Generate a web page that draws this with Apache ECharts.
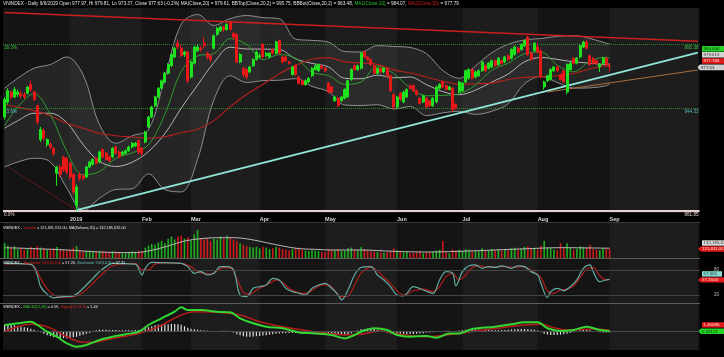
<!DOCTYPE html>
<html><head><meta charset="utf-8">
<script src="https://cdn.jsdelivr.net/npm/echarts@6/dist/echarts.min.js"></script>
<style>html,body{margin:0;padding:0;background:#000;overflow:hidden}#c{width:724px;height:357px}</style>
</head><body><div id="c"></div>
<script>
// ---------- data ----------
const totalSlots = 213;
const monthStarts = [20, 42, 57, 78, 98, 120, 140, 163, 185];
const monthLabels = ['2019', 'Feb', 'Mar', 'Apr', 'May', 'Jun', 'Jul', 'Aug', 'Sep'];
const lightMonths = [[20, 42], [57, 78], [98, 120], [140, 163], [185, 212]];

const opens = [937,949,957,953,955,956,955,956,963,957, 946,919,926,915,915,912,892,897,905,904, 900,891,866,891,890,889,897,899,904,901, 911,908,905,905,913,909,907,908,910,913, 914,918,912,917,929,937,946,953,960,965, 972,978,985,996,992,987,989,969,980,990, 992,996,988,986,992,1003,1006,1009,1007,1013, 1004,1003,981,976,975,973,978,983,985,995, 986,985,991,988,998,985,985,981,971,978, 969,966,963,965,970,975,974,978,976,964, 961,950,952,950,952,953,967,978,975,976, 989,985,983,978,972,976,973,976,970,955, 945,956,949,953,962,962,958,952,949,952, 950,946,949,960,965,962,959,960,947,957, 958,965,968,975,969,970,974,978,976,977, 982,979,982,981,986,984,987,992,991,994, 1001,988,990,993,990,961,966,967,974,977, 971,974,957,975,984,980,985,993,997,986, 984,982,977,980,984,977.97];
const closes = [951,958,953,959,957,954,953,961,959,951, 933,927,920,919,913,908,897,891,895,893, 889,877,881,888,888,897,901,903,900,909, 905,903,902,912,908,905,909,910,913,916, 916,909,908,925,937,945,953,960,966,972, 979,987,992,993,986,989,966,981,993,993, 991,994,985,983,1002,1008,1009,1007,1011,1007, 1001,981,987,971,969,977,983,989,986,985, 988,988,988,997,988,981,982,980,977,971, 964,963,966,968,976,978,979,976,974,957, 957,953,946,953,959,966,975,975,978,988, 985,983,979,972,976,973,976,970,958,945, 953,951,957,959,960,958,955,948,954,945, 946,952,961,963,961,959,961,943,944,965, 964,974,975,968,973,974,981,974,980,982, 978,984,980,985,983,991,993,989,995,998, 987,983,996,989,969,965,970,975,977,974, 967,965,979,980,980,984,994,997,992,979, 980,980,979,984,979,977.63];
const lows = [935,947,951,952,953,952,951,955,957,950, 931,917,918,913,911,906,882,889,893,891, 887,875,862,886,886,888,896,898,899,900, 904,902,901,904,907,904,906,907,909,912, 913,907,906,916,928,936,945,952,959,964, 971,977,984,991,985,985,964,968,979,989, 989,992,983,981,991,1002,1005,1005,1006,1006, 999,980,980,969,967,972,977,982,984,984, 985,984,987,987,987,980,981,979,970,970, 963,962,962,964,969,974,973,975,973,956, 956,949,945,949,951,952,966,974,974,975, 984,982,978,971,971,972,972,969,957,943, 944,950,948,952,959,957,954,947,948,944, 945,945,948,959,960,958,958,941,943,956, 957,964,967,967,968,969,973,973,975,976, 977,978,979,980,982,983,986,988,990,993, 986,982,989,988,968,959,965,966,973,973, 966,964,955,974,979,979,984,992,991,978, 979,979,973,979,978,973.37];
const highs = [953,960,958,961,959,958,957,962,966,958, 947,929,928,920,917,913,898,899,906,905, 901,892,883,893,891,898,902,904,905,910, 912,909,906,913,914,910,910,911,914,917, 917,919,913,926,938,946,954,961,967,973, 980,988,993,999,995,990,990,982,994,995, 994,1001,989,987,1003,1009,1010,1010,1012,1014, 1005,1004,988,977,976,978,984,990,988,996, 989,989,992,998,999,986,986,982,978,979, 970,967,967,969,977,979,980,979,977,965, 962,954,953,954,960,967,976,979,979,989, 990,986,984,979,977,977,977,977,971,956, 954,957,958,960,963,963,959,953,955,953, 951,953,962,964,966,963,962,961,948,966, 965,975,976,976,974,975,982,979,981,983, 983,985,983,986,987,992,994,993,996,999, 1002,989,997,996,991,966,971,976,978,978, 972,975,980,981,985,985,995,998,999,987, 985,983,980,985,985,979.81];

// indicator lines read at sampled candles
const sampleIdx = [0,4,9,14,19,24,29,34,39,44,49,54,59,64,69,74,79,84,89,94,99,104,109,114,119,124,129,134,139,144,149,154,159,164,169,174,179,184,185];
const ma20  = [928,934,940,940,932.6,914.9,901.5,897.4,900.8,909.4,923.7,944.1,962.5,980.5,992.8,991.4,991.3,991,983.5,979.9,977.1,968,967.6,970.5,968.4,969,962.9,957.3,954.8,958.5,965,971.4,981.1,984.6,983.1,981.1,980.1,979,979.61];
const bbTop = [960,968,976,979,985,970.7,931,916,922,927,968.5,1011.2,1019,1010.3,1015.7,1018.2,1016.5,1015.6,999.3,998.3,996.9,989.4,989,994.1,993.4,992.6,987.7,974.3,968,977.9,988.4,995.2,998.6,999.8,1001.5,1002.1,999.9,996,995.75];
const bbBot = [897,901,904,901,880.2,862,872,879,879.6,891.5,878.9,877.1,903.1,950.7,970,964.6,966.1,966.4,967.7,961.5,957.3,946.6,946.2,946.9,943.4,945.4,938.1,940.3,941.6,939.1,941.6,947.6,963.6,969.4,964.7,960.1,960.3,962,963.48];
const ma10  = [930,945,955.6,939,909.6,890.7,893.3,904,908.3,914.8,939.1,973.3,985.9,987.7,999.7,995.1,982.9,986.9,984,972.8,970.1,963.2,965,977.7,971.7,960.2,954,954.3,955.5,962.6,974.5,980.1,987.6,989,978.5,973.2,981.7,984.8,984.07];
const ma50  = [947,945,942,938,932,928,924,922,921,920,921.2,924.4,927.2,934.1,945.3,955,963.2,971.6,978.3,983.2,984.5,981.1,980.3,979.1,974.7,972.2,969,965.6,963.3,963.6,964.1,967,968.7,969.2,970,971.8,975.6,977.9,977.79];

// trend lines [candle index, price]
const resistanceLine = [[0, 1020.6], [212, 997.6]];
const supportLine = [[22, 862.5], [212, 988.5]];
const lowerChannel = [[166, 957], [212, 974.6]];
const decemberLine = [[1, 897], [22, 862.6]];
const fibLevels = [995.38, 944.33, 861.85];
const fibNames = ['38.2%', '23.6%', '0.0%'];

// volume (millions of shares)
const volumes = [200,170,140,160,120,140,110,130,150,120, 160,140,130,110,120,130,150,120,110,100, 110,140,160,100,80,95,100,90,80,95, 90,80,70,90,85,75,60,65,80,90, 85,100,90,140,170,190,180,210,230,200, 260,290,250,290,300,260,280,240,320,380, 270,250,270,230,260,250,290,260,300,270, 250,230,200,180,160,150,140,150,130,150, 140,120,130,150,140,120,110,100,120,130, 140,110,100,95,110,100,95,85,80,120, 115,100,120,95,100,130,140,110,100,150, 120,100,95,85,80,75,70,80,100,130, 100,85,75,80,65,70,75,85,65,80, 75,85,100,110,230,75,65,120,100,110, 95,120,110,85,95,90,130,95,100,120, 105,115,95,120,105,130,140,115,125,150, 160,125,130,115,170,230,140,135,115,105, 200,130,200,145,115,125,160,150,140,180, 125,115,105,135,125,121.83];
const volumeMA = [[0,139],[9,126],[19,108],[29,81],[39,72],[44,94],[50,162],[55,229],[60,261],[65,274],[70,274],[75,252],[80,207],[85,162],[90,126],[95,117],[100,108],[109,108],[119,90],[129,81],[139,90],[150,108],[160,126],[170,139],[180,135],[185,132.19]];

// stochastic
const stochK = [[0,96],[4,95],[8,94],[10,68],[11,40],[13,22],[15,13],[18,16],[21,18],[24,36],[27,60],[29,76],[31,88],[33,96],[37,95],[40,94],[42,68],[43,84],[45,98],[50,97],[54,96],[56,88],[58,72],[60,76],[62,68],[64,72],[66,88],[68,88],[70,80],[72,20],[74,16],[76,36],[78,40],[80,44],[82,60],[84,56],[86,36],[88,28],[90,24],[92,20],[94,36],[96,44],[98,48],[100,36],[102,20],[103,8],[105,32],[107,68],[109,86],[112,88],[114,68],[116,56],[118,40],[120,20],[122,18],[125,40],[128,32],[131,24],[133,56],[135,76],[137,72],[138,42],[140,76],[142,90],[144,92],[146,84],[148,88],[150,86],[152,90],[155,84],[157,90],[159,88],[161,76],[163,68],[164,48],[166,14],[167,28],[169,36],[171,30],[173,40],[175,56],[177,84],[179,92],[180,76],[182,52],[184,56],[185,57.31]];
const stochD = [[0,94],[5,95],[9,88],[11,60],[13,35],[15,20],[18,15],[21,16],[24,26],[27,48],[29,64],[31,78],[33,90],[37,95],[40,95],[42,80],[44,80],[46,94],[50,97],[54,96],[57,88],[59,76],[61,72],[63,70],[65,78],[67,86],[69,85],[71,60],[73,26],[75,22],[77,32],[79,40],[81,48],[83,56],[85,50],[87,36],[89,28],[91,24],[93,26],[95,36],[97,44],[99,44],[101,30],[103,16],[105,18],[107,44],[109,72],[112,86],[114,78],[116,62],[118,48],[120,30],[122,20],[125,30],[128,34],[131,28],[133,40],[135,64],[137,72],[139,56],[141,68],[143,86],[145,90],[147,87],[149,87],[151,88],[153,88],[156,86],[158,88],[160,84],[162,74],[164,62],[166,30],[168,24],[170,32],[172,34],[174,42],[176,62],[178,82],[180,86],[182,66],[184,56],[185,57.26]];

// MACD
const macdLine = [[0,6.7],[4,8.4],[8,10],[10,6.7],[13,0],[16,-5],[19,-11.6],[22,-15],[25,-13.3],[29,-8.3],[33,-5],[37,-2.6],[41,0],[44,6.7],[48,13.4],[52,20],[54,24.4],[56,21.7],[60,21.7],[65,20],[69,19.4],[72,13.4],[76,8.4],[80,5],[85,3.4],[90,-0.7],[95,-1.7],[100,-3.3],[104,-6.7],[107,-3.3],[109,0],[113,3.4],[117,1.7],[120,-3.3],[124,-5],[129,-4.3],[132,-6],[136,-1.7],[139,-1.7],[143,2.7],[150,5],[155,7.4],[159,9.4],[163,9.4],[166,3.4],[170,0.7],[174,1.7],[178,5],[182,1.7],[185,0.59]];
const macdSignal = [[0,0],[4,5],[8,7.4],[13,5],[19,-5],[23,-10],[27,-10.6],[33,-6.7],[41,-1.7],[47,5],[54,16.7],[58,20],[65,19.4],[72,16.7],[78,10],[85,5],[95,0],[104,-3.3],[109,-2.5],[115,0.7],[121,-2.6],[129,-5],[137,-2.6],[144,0.7],[152,4],[159,6.7],[164,7.4],[168,4],[172,1.7],[180,2.7],[185,1.40]];
const macdHist = [7,7.5,7,6.5,6,5,4.5,4,3,2, 1,-0.5,-2,-3.5,-4.5,-5.5,-6,-6.5,-6.5,-6.5, -6,-5.5,-5,-4,-3,-2,-1,0.5,1.5,2, 2,2,1.8,1.7,1.6,1.5,1.5,1.4,1.4,1.5, 1.6,1.7,2.5,3.5,4.5,5.5,6.5,7,7.5,7.5, 7.5,7.8,7.8,7.5,7,5.5,4,3,2.5,2, 1.5,1.2,1,0.8,0.6,0.6,0.8,1,1,0.5, -1,-2.5,-3.5,-4.5,-5,-5,-4.8,-4.5,-4.2,-3.8, -3.5,-3,-2.5,-2,-1.8,-1.6,-1.5,-1.4,-1.3,-1.2, -1.2,-1.3,-1.4,-1.5,-1.6,-1.7,-1.7,-1.6,-1.5,-1.5, -1.8,-2.2,-2.8,-3.2,-3.4,-2.5,-1.5,0,1.2,2.5, 2.8,3,3,2.8,2,1,0,-1,-1.8,-2.2, -2.5,-2.6,-2.6,-2.5,-2.4,-2.2,-2,-1.8,-1.5,-1, -0.8,-0.5,0,0.4,0.8,1,1,0.8,0.8,1.2, 1.6,2,2.3,2.5,2.4,2.2,2,1.8,1.6,1.5, 1.5,1.5,1.6,1.8,2,2.2,2.4,2.6,2.7,2.7, 2.5,2.2,2,1.2,-0.5,-2,-2.8,-3.2,-3.3,-3.2, -3,-2.6,-2,-1.2,-0.5,0.5,1.5,2.2,2.5,1.5, 0.5,-0.2,-0.6,-0.8,-0.8,-0.81];

// ---------- build ----------
const F = '"Liberation Sans", Arial, sans-serif';
const slots = Array.from({length: totalSlots}, (_, i) => String(i));
const UP = '#1fe21f', DN = '#e81818';
const candleData = opens.map((o, i) => [o, closes[i], lows[i], highs[i]]);
const pairs = arr => sampleIdx.map((x, k) => [x, arr[k]]);
const bandWidth = sampleIdx.map((x, k) => [x, +(bbTop[k] - bbBot[k]).toFixed(2)]);
const volData = volumes.map((v, i) => ({value: v, itemStyle: {color: closes[i] >= opens[i] ? '#1fae1f' : '#cc1a1a'}}));
const shade = lightMonths.map(m => [{xAxis: String(m[0])}, {xAxis: String(m[1])}]);

const grids = [
  {left: 3, right: 24.5, top: 8, height: 205},
  {left: 3, right: 24.5, top: 223, height: 35},
  {left: 3, right: 24.5, top: 258.5, height: 44.8},
  {left: 3, right: 24.5, top: 303.5, height: 46.5}
].map(g => Object.assign(g, {show: true, backgroundColor: '#141414', borderWidth: 0}));

const xAxes = grids.map((g, gi) => ({
  type: 'category', gridIndex: gi, data: slots, boundaryGap: true,
  axisLine: {show: false}, axisTick: {show: false}, splitLine: {show: false},
  axisLabel: gi === 0 ? {
    show: true, interval: (idx) => monthStarts.indexOf(idx) >= 0,
    formatter: (v, idx) => monthLabels[monthStarts.indexOf(idx)] || '',
    color: '#d8d8d8', fontSize: 5.5, fontFamily: F, fontWeight: 'bold', align: 'left', margin: 3
  } : {show: false}
}));
const yAxes = [
  {gridIndex: 0, min: 860.2, max: 1024.2},
  {gridIndex: 1, min: 0, max: 472},
  {gridIndex: 2, min: 0, max: 107.5},
  {gridIndex: 3, min: -18.3, max: 28.2}
].map(a => Object.assign(a, {type: 'value', show: false, splitLine: {show: false}}));

function bgSeries(gi) {
  return {type: 'line', xAxisIndex: gi, yAxisIndex: gi, data: [], z: 1, silent: true,
    markArea: {silent: true, itemStyle: {color: '#1d1d1d'}, data: shade}};
}
function lineS(gi, data, color, width, z, extra) {
  return Object.assign({type: 'line', xAxisIndex: gi, yAxisIndex: gi, data, smooth: 0.35,
    showSymbol: false, symbol: 'none', silent: true, z: z || 3,
    lineStyle: {color, width}, itemStyle: {color}}, extra || {});
}
const fibColors = ['#3cc03c', '#56b8c4', '#e0cccc'];
const fibLine = [
  {color: '#2c8a2c', type: 'dotted', width: 1},
  {color: '#2c8a2c', type: 'dotted', width: 1},
  {color: '#e6cfcf', type: 'solid', width: 2}
];
const fibMarks = [];
fibLevels.forEach((v, k) => {
  fibMarks.push({yAxis: v, lineStyle: fibLine[k],
    label: {show: true, position: 'insideStartBottom', distance: 1, formatter: fibNames[k], color: fibColors[k], fontSize: 4.6, fontFamily: F}});
  fibMarks.push({yAxis: v, lineStyle: {color: 'rgba(0,0,0,0)', width: 1, type: 'solid'},
    label: {show: true, position: 'insideEndBottom', distance: 1, formatter: v.toFixed(2), color: fibColors[k], fontSize: 4.6, fontFamily: F}});
});
const seg = (p, style) => [{coord: [String(p[0][0]), p[0][1]], lineStyle: style}, {coord: [String(p[1][0]), p[1][1]]}];

const series = [
  bgSeries(0), bgSeries(1), bgSeries(2), bgSeries(3),
  // Bollinger band fill
  lineS(0, pairs(bbBot), 'rgba(0,0,0,0)', 0, 2, {stack: 'bb'}),
  lineS(0, bandWidth, 'rgba(0,0,0,0)', 0, 2, {stack: 'bb', areaStyle: {color: 'rgba(72,72,72,0.5)'}}),
  lineS(0, pairs(bbTop), '#8e8e8e', 1, 3),
  lineS(0, pairs(bbBot), '#8e8e8e', 1, 3),
  lineS(0, pairs(ma20), '#b4b4b4', 1, 3),
  lineS(0, pairs(ma50), '#b3201c', 1.2, 3),
  lineS(0, pairs(ma10), '#2f9c2f', 1, 3),
  {type: 'candlestick', xAxisIndex: 0, yAxisIndex: 0, data: candleData, barWidth: 2.5, z: 5, silent: true,
    itemStyle: {color: UP, color0: DN, borderColor: UP, borderColor0: DN, borderWidth: 1},
    markLine: {silent: true, symbol: ['none', 'none'], animation: false, label: {show: false},
      data: fibMarks.concat([
        seg(resistanceLine, {color: '#cc1f1f', width: 1.5, type: 'solid'}),
        seg(supportLine, {color: '#8fe6d6', width: 2, type: 'solid'}),
        seg(lowerChannel, {color: '#a8703e', width: 1, type: 'solid'}),
        seg(decemberLine, {color: '#5e1a1a', width: 1, type: 'solid'})
      ])}},
  // volume
  {type: 'bar', xAxisIndex: 1, yAxisIndex: 1, data: volData, barWidth: 1.6, z: 3, silent: true},
  lineS(1, volumeMA, '#b8b8b8', 1, 4),
  // stochastic
  lineS(2, stochD, '#b01c1c', 1.2, 3, {markLine: {silent: true, symbol: ['none', 'none'], label: {show: false},
    lineStyle: {color: '#454545', width: 1, type: 'solid'}, data: [{yAxis: 80}, {yAxis: 20}]}}),
  lineS(2, stochK, '#62aaa2', 1.2, 4),
  // MACD
  {type: 'bar', xAxisIndex: 3, yAxisIndex: 3, data: macdHist, barWidth: 1.2, z: 3, silent: true,
    itemStyle: {color: '#dcdcdc'},
    markLine: {silent: true, symbol: ['none', 'none'], label: {show: false},
      lineStyle: {color: '#4a4a4a', width: 1, type: 'solid'}, data: [{yAxis: 0}]}},
  lineS(3, macdSignal, '#b51b1b', 1.5, 4),
  lineS(3, macdLine, '#33d633', 2, 5)
];

// ---------- text & tags ----------
function richText(x, y, parts, size) {
  let text = ''; const rich = {};
  parts.forEach((p, i) => { const k = 's' + i; text += '{' + k + '|' + p[0] + '}'; rich[k] = {fill: p[1], font: size + 'px ' + F}; });
  return {type: 'text', x, y, silent: true, z: 100, style: {text, rich, font: size + 'px ' + F, fill: '#ddd', verticalAlign: 'middle'}};
}
function tag(x, y, w, h, bg, fg, text, pointer) {
  const shape = pointer ? {type: 'polygon', shape: {points: [[0, h / 2], [3, 0], [w, 0], [w, h], [3, h]]}, style: {fill: bg}}
                        : {type: 'rect', shape: {x: 0, y: 0, width: w, height: h}, style: {fill: bg}};
  return {type: 'group', x, y, z: 100, silent: true, children: [shape,
    {type: 'text', x: pointer ? 4 : 1.5, y: h / 2 + 0.2, style: {text, fill: fg, font: '4.4px ' + F, verticalAlign: 'middle'}}]};
}
function plain(x, y, text, color) {
  return {type: 'text', x, y, z: 100, silent: true, style: {text, fill: color, font: '4.6px ' + F, verticalAlign: 'middle'}};
}
const hline = (y, c) => ({type: 'line', z: 90, silent: true, shape: {x1: 0, y1: y, x2: 700, y2: y}, style: {stroke: c, lineWidth: 1}});

const graphic = [
  hline(222.5, '#3a3a3a'), hline(258.5, '#5c5c5c'), hline(303.5, '#5c5c5c'),
  richText(3, 4, [['VNINDEX - Daily 9/6/2019 Open 977.97, Hi 979.81, Lo 973.37, Close 977.63 (-0.2%) MA(Close,20) = 979.61, BBTop(Close,20,2) = 995.75, BBBot(Close,20,2) = 963.48, ', '#e6e6e6'], ['MA1(Close,10)', '#2fc62f'], [' = 984.07, ', '#e6e6e6'], ['MA2(Close,50)', '#d02020'], [' = 977.79', '#e6e6e6']], 4.7),
  richText(3, 227.5, [['VNINDEX - ', '#e6e6e6'], ['Volume', '#e02020'], [' = 121,831,912.00, MA(Volume,20) = 132,185,632.00', '#e6e6e6']], 3.8),
  richText(3, 262.5, [['VNINDEX - ', '#e6e6e6'], ['Stochastic %D(14,3,3)', '#e02020'], [' = 57.26, ', '#e6e6e6'], ['Stochastic %K(14,3)', '#6cc0b6'], [' = 57.31', '#e6e6e6']], 3.8),
  richText(3, 307, [['VNINDEX - ', '#e6e6e6'], ['MACD(12,26)', '#33d633'], [' = 0.59, ', '#e6e6e6'], ['Signal(12,26,9)', '#e02020'], [' = 1.40', '#e6e6e6']], 3.8),
  tag(702, 46, 22, 5.6, '#27d327', '#0a3a0a', '984.066'),
  tag(702, 52, 22, 5.6, '#d4d4d4', '#3a3a3a', '979.615'),
  tag(702, 58.2, 22, 5.6, '#e01a1a', '#ffdede', '977.786'),
  tag(697, 64.4, 27, 5.8, '#cfcfcf', '#2a2a2a', '977.63', true),
  tag(702, 240.3, 22, 5.4, '#dcdcdc', '#333', '132,185,632'),
  tag(698, 246.3, 26, 5.4, '#e01a1a', '#ffdede', '121,831,912', true),
  plain(714, 269.8, '80', '#bdbdbd'),
  tag(702, 271.2, 20, 5.4, '#8ad8cf', '#123c38', '57.305'),
  tag(698, 277.2, 26, 5.4, '#e01a1a', '#ffdede', '57.2604', true),
  plain(714, 295, '20', '#bdbdbd'),
  tag(702, 322.2, 22, 5.4, '#e01a1a', '#ffdede', '1.40086'),
  tag(698, 328.4, 26, 5.6, '#27d327', '#0a3a0a', '0.59121', true)
];

const chart = echarts.init(document.getElementById('c'), null, {renderer: 'canvas'});
chart.setOption({
  backgroundColor: '#000', animation: false,
  grid: grids, xAxis: xAxes, yAxis: yAxes, series, graphic
});
</script></body></html>
